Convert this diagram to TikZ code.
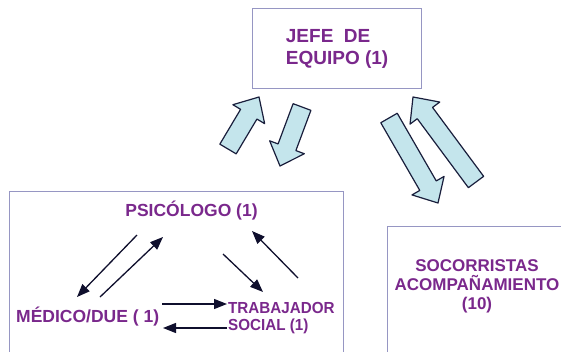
\documentclass[tikz,border=0pt]{standalone}
\usepackage{fontspec}
\setmainfont{Liberation Sans}
\usetikzlibrary{arrows.meta,calc}
\definecolor{txtpurple}{RGB}{122,40,140}
\definecolor{boxline}{RGB}{150,150,195}
\definecolor{arrfill}{RGB}{196,229,236}
\definecolor{arrline}{RGB}{25,30,60}
\definecolor{thinline}{RGB}{15,15,45}
\newcommand\blockarr[2]{%
  \coordinate (bh) at ($(#2)!20pt!(#1)$);
  \draw[blockarrow] ($(#1)!9.5pt!90:(#2)$) -- ($(bh)!9.5pt!-90:(#1)$) -- ($(bh)!18.5pt!-90:(#1)$) -- (#2) -- ($(bh)!18.5pt!90:(#1)$) -- ($(bh)!9.5pt!90:(#1)$) -- ($(#1)!9.5pt!-90:(#2)$) -- cycle;}
\begin{document}
\begin{tikzpicture}[x=1pt,y=-1pt,
  box/.style={draw=boxline, line width=1.2pt, fill=white, inner sep=0pt},
  titletext/.style={text=txtpurple, font=\fontsize{19}{22}\selectfont\bfseries, inner sep=0pt},
  lbl/.style={text=txtpurple, font=\fontsize{17.5}{20}\selectfont\bfseries, inner sep=0pt},
  smalllbl/.style={text=txtpurple, font=\fontsize{16}{17}\selectfont\bfseries, inner sep=0pt, xscale=0.95},
  soclbl/.style={text=txtpurple, font=\fontsize{17}{19}\selectfont\bfseries, inner sep=0pt},
  blockarrow/.style={draw=arrline, fill=arrfill, line width=1.2pt, line join=round},
  thinarrow/.style={draw=thinline, line width=1.3pt, -{Triangle[length=13pt,width=10pt]}}]
\path[use as bounding box] (0,0) rectangle (561,351);
\clip (0,0) rectangle (561,351);
\fill[white] (0,0) rectangle (561,351);
% boxes
\node[box, minimum width=169pt, minimum height=80pt, anchor=north west] (jefe) at (252,8) {};
\node[titletext, align=left] (jefetxt) at (jefe.center) {JEFE\ \ DE\\EQUIPO (1)};
\node[box, minimum width=334pt, minimum height=220pt, anchor=north west] (equipo) at (9,191) {};
\node[box, minimum width=220pt, minimum height=200pt, anchor=north west] (socbox) at (387,226) {};
% labels
\node[lbl, anchor=base] (psi) at (191.5,216) {PSICÓLOGO (1)};
\node[lbl, anchor=base west] (med) at (16,322) {MÉDICO/DUE ( 1)};
\node[smalllbl, align=left, anchor=west] (trab) at (228,318) {TRABAJADOR\\SOCIAL (1)};
\node[soclbl, align=center] (soc) at (477,286) {SOCORRISTAS\\ACOMPAÑAMIENTO\\(10)};
% block arrows
\coordinate (aAs) at (228,149); \coordinate (aAe) at (259,97);
\coordinate (aBs) at (302,107); \coordinate (aBe) at (280,166);
\coordinate (aCs) at (389,118); \coordinate (aCe) at (438,203);
\coordinate (aDs) at (476,182); \coordinate (aDe) at (413,97);
\blockarr{aAs}{aAe}
\blockarr{aBs}{aBe}
\blockarr{aCs}{aCe}
\blockarr{aDs}{aDe}
% thin arrows
\coordinate (t1s) at (137,235); \coordinate (t1e) at (77,297);
\coordinate (t2s) at (100,297); \coordinate (t2e) at (163,237);
\coordinate (t3s) at (223,254); \coordinate (t3e) at (263,292);
\coordinate (t4s) at (298,278); \coordinate (t4e) at (252,231);
\coordinate (t5s) at (162,304); \coordinate (t5e) at (227,304);
\coordinate (t6s) at (227,328); \coordinate (t6e) at (163,328);
\draw[thinarrow] (t1s) -- (t1e);
\draw[thinarrow] (t2s) -- (t2e);
\draw[thinarrow] (t3s) -- (t3e);
\draw[thinarrow] (t4s) -- (t4e);
\draw[thinarrow] (t5s) -- (t5e);
\draw[thinarrow] (t6s) -- (t6e);
\end{tikzpicture}
\end{document}
